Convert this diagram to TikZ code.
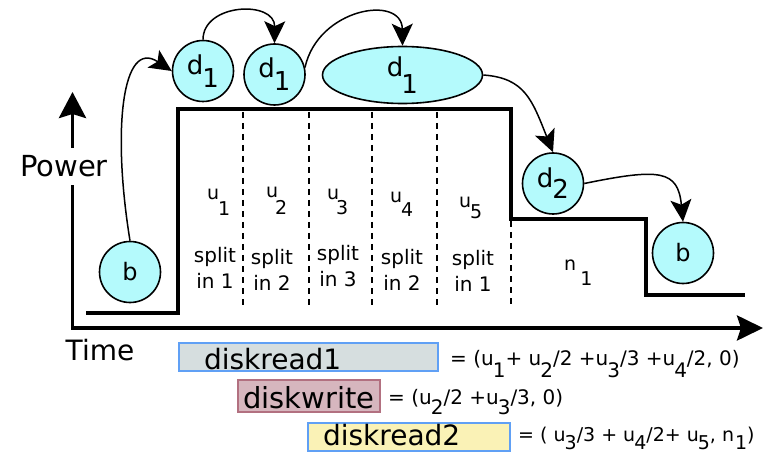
\documentclass[tikz,border=0pt]{standalone}
\usepackage{fontspec}
\setmainfont{DejaVu Sans}
\usetikzlibrary{arrows.meta,shapes.geometric}

% lowered index digit, same size as the letter it follows
\newcommand\lowr[2][0.6em]{\lower#1\hbox{#2}}

\definecolor{nodecyan}{RGB}{180,250,252}
\definecolor{readfill}{RGB}{214,222,223}
\definecolor{readedge}{RGB}{96,160,245}
\definecolor{writefill}{RGB}{214,182,190}
\definecolor{writeedge}{RGB}{178,112,128}
\definecolor{readtwofill}{RGB}{250,242,182}

\tikzset{
  px/.style={font=\fontsize{#1}{#1}\selectfont},
  task/.style={circle, draw, line width=1.6pt, fill=nodecyan,
    minimum size=61pt, inner sep=0pt, px=26},
  taskoval/.style={ellipse, draw, line width=1.6pt, fill=nodecyan,
    minimum width=160pt, minimum height=57pt, inner sep=0pt, px=26},
  flow/.style={line width=1.5pt, -{Stealth[length=22pt,width=21pt,inset=5pt]}},
  axis/.style={line width=3.8pt, line join=miter,
    {Stealth[length=26pt,width=27pt,inset=4pt]}-{Stealth[length=26pt,width=25pt,inset=4pt]}},
  powerline/.style={line width=3.6pt, line join=miter},
  splitline/.style={line width=1.5pt, dash pattern=on 6pt off 5pt},
  ulabel/.style={anchor=base west, inner sep=0pt, px=19},
  splitlabel/.style={align=center, inner sep=0pt, font=\fontsize{20}{26}\selectfont},
  eq/.style={anchor=base west, inner sep=0pt, px=20},
  legend/.style={draw, line width=1.8pt, inner xsep=0pt, inner ysep=0pt},
}

\begin{document}
\begin{tikzpicture}[x=1pt,y=-1pt]
\useasboundingbox (0,0) rectangle (765,454);

% axes
\coordinate (origin) at (72.5,328);
\coordinate (ytip) at (72.5,92);
\coordinate (xtip) at (763,328);
\draw[axis] (ytip) -- (origin) -- (xtip);
\node[fill=white, inner xsep=2pt, inner ysep=7.5pt, px=29] (power) at (64,166.5) {Power};
\node[px=28, inner sep=0pt] (time) at (100,350) {Time};

% power profile over time
\draw[powerline] (86,313) -- (178,313) -- (178,109) -- (511,109) -- (511,219)
  -- (646,219) -- (646,295) -- (745,295);

% column separators
\foreach \x in {243,309,372,437}
  \draw[splitline] (\x,112) -- (\x,305);
\draw[splitline] (511,221) -- (511,305);

% column labels
\node[ulabel] (u1) at (207,200) {u\kern-1pt\lowr[16pt]{1}};
\node[ulabel] (u2) at (266,198) {u\kern-3pt\lowr[17pt]{2}};
\node[ulabel] (u3) at (327,200) {u\kern-3pt\lowr[15pt]{3}};
\node[ulabel] (u4) at (390,203) {u\kern-1pt\lowr[14pt]{4}};
\node[ulabel] (u5) at (459,208) {u\kern-1pt\lowr[10pt]{5}};
\node[ulabel] (n1) at (564,270) {n\kern4pt\lowr[15pt]{1}};

\node[splitlabel] (s1) at (215,268) {split\\in 1};
\node[splitlabel] (s2) at (272,270) {split\\in 2};
\node[splitlabel] (s3) at (338,266) {split\\in 3};
\node[splitlabel] (s4) at (402,270) {split\\in 2};
\node[splitlabel] (s5) at (473,271) {split\\in 1};

% task nodes
\node[task, px=24] (b0) at (130,272) {b};
\node[task] (d1a) at (203,71) {d\kern-1pt\lowr[13pt]{1}};
\node[task] (d1b) at (274.5,74.5) {d\kern-1pt\lowr[13pt]{1}};
\node[taskoval] (d1c) at (402.5,75) {d\kern-2pt\lowr[17pt]{1}};
\node[task] (d2) at (553,183.5) {d\kern-1pt\lowr[11pt]{2}};
\node[task, px=24] (b1) at (683,253) {b};

% transitions
\draw[flow] (b0.north) .. controls (112,130) and (122,38) .. (d1a.west);
\draw[flow] (d1a.north) .. controls (203,3) and (275,0) .. (d1b.north);
\draw[flow] (d1b.13) .. controls (318,8) and (402,-6) .. (d1c.north);
\draw[flow] (d1c.east) .. controls (525,78) and (532,100) .. (d2.north);
\draw[flow] (d2.east) .. controls (660,168) and (678,170) .. (b1.north);

% legend
\node[legend, draw=readedge, fill=readfill, text width=259pt, align=left,
  text height=26.5pt, text depth=1.5pt, px=28] (dr1) at (308.5,357)
  {\hspace*{25pt}diskread1};
\node[eq] (eq1) at (450,365)
  {= (u\kern-1pt\lowr[12pt]{1}+ u\kern-1pt\lowr[12pt]{2}/2 +u\kern-1pt\lowr[12pt]{3}/3 +u\kern-1pt\lowr[12pt]{4}/2, 0)};

\node[legend, draw=writeedge, fill=writefill, minimum width=142pt,
  text height=28pt, text depth=4pt, px=29] (dw) at (309,396) {diskwrite};
\node[eq] (eq2) at (388,404)
  {= (u\kern-1pt\lowr[10pt]{2}/2 +u\kern-1pt\lowr[10pt]{3}/3, 0)};

\node[legend, draw=readedge, fill=readtwofill, text width=202pt, align=left,
  text height=22pt, text depth=6pt, px=28] (dr2) at (409,437)
  {\hspace*{15pt}diskread2};
\node[eq, px=19] (eq3) at (518,441)
  {= ( u\kern-1pt\lowr[8pt]{3}/3 + u\kern-1pt\lowr[8pt]{4}/2+ u\kern-1pt\lowr[8pt]{5}, n\kern1pt\lowr[8pt]{1})};
\end{tikzpicture}
\end{document}
